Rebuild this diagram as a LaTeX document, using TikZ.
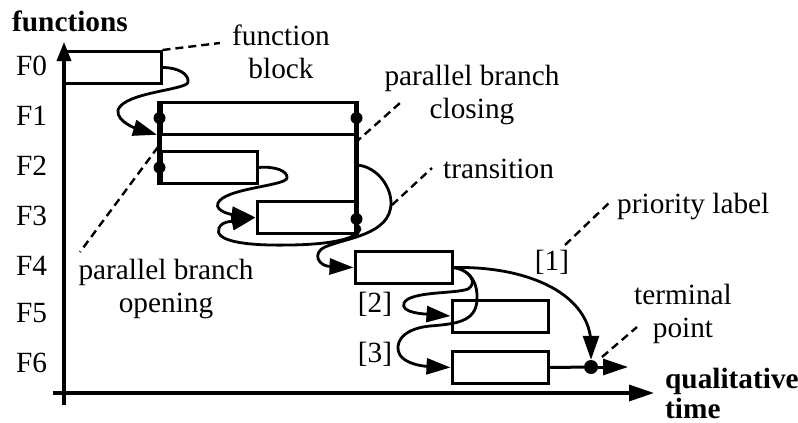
\documentclass[tikz,border=0pt]{standalone}
\usepackage{fontspec}
\setmainfont{Liberation Serif}
\usetikzlibrary{arrows.meta}

\begin{document}
\begin{tikzpicture}[
        x=1pt, y=-1pt,
        lbl/.style={font=\fontsize{29.3}{32.5}\selectfont, inner sep=0pt, align=center},
        hdr/.style={font=\fontsize{29.3}{30}\selectfont\bfseries, inner sep=0pt, align=left},
        blk/.style={draw, line width=3pt, minimum height=32pt, inner sep=0pt},
        par/.style={draw, line width=5.2pt},
        pmark/.style={circle, fill, inner sep=0pt, minimum size=12pt},
        axline/.style={draw, line width=3.4pt},
        trans/.style={draw, line width=2.8pt, -{Triangle[length=24pt,width=16pt]}},
        lead/.style={draw, line width=2.4pt, dash pattern=on 8pt off 5pt}
    ]
    \useasboundingbox (0,0) rectangle (798,423);
    % axes
    \coordinate (ytop) at (64,42);
    \coordinate (ybot) at (64,405);
    \coordinate (xleft) at (53,393);
    \coordinate (xend) at (654,393);
    \draw[axline, -{Triangle[length=19pt,width=14pt]}] (ybot) -- (ytop);
    \draw[axline, -{Triangle[length=25pt,width=16pt]}] (xleft) -- (xend);
    \node[hdr, anchor=base west] (yl) at (12,31) {functions};
    \node[hdr, anchor=base west] (xl) at (665,418) {qualitative\\time};
    \foreach \f/\yb in {0/75,1/125,2/175,3/225,4/275,5/322,6/372}
        \node[lbl, anchor=base west] (lf\f) at (16,\yb) {F\f};

    % function blocks
    \node[blk, minimum width=97pt] (f0) at (112.5,67.5) {};
    \node[blk, minimum width=194pt] (f1) at (258,118) {};
    \node[blk, minimum width=96pt] (f2) at (209,167.5) {};
    \node[blk, minimum width=98pt] (f3) at (306,217.5) {};
    \node[blk, minimum width=97pt] (f4) at (403.5,267.5) {};
    \node[blk, minimum width=96pt] (f5) at (500,316) {};
    \node[blk, minimum width=96pt] (f6) at (500,367.5) {};

    % parallel branch
    \draw[par] (f1.north west) -- (f2.south west);
    \draw[par] (f1.north east) -- (f3.south east);
    \node[pmark] (b1) at (f1.west) {};
    \node[pmark] (b2) at (f1.east) {};
    \node[pmark] (b3) at (f2.west) {};
    \node[pmark] (b4) at ([yshift=-1.5pt]f3.east) {};
    \coordinate (cls) at (355,165);
    \node[pmark, minimum size=14pt] (tp) at (591,367) {};
    \coordinate (tend) at (628,367);

    % transitions
    \draw[trans, shorten >=2.6pt] (f0.east) .. controls (178,67.5) and (189,74) .. (188,82)
        .. controls (188,90) and (124,92) .. (118,110)
        .. controls (116,122) and (138,129) .. (f1.south west);
    \draw[trans] (f2.east) .. controls (275,166) and (288,171) .. (287,178)
        .. controls (286,186) and (225,188) .. (218,203)
        .. controls (214,212) and (235,215) .. (f3.west);
    \draw[trans] (b4.south) .. controls (365,228) and (362,244) .. (290,245)
        .. controls (240,246) and (214,240) .. (219,228)
        .. controls (222,220) and (238,221) .. (f3.west);
    \draw[trans] (cls) .. controls (375,165) and (391,185) .. (391,203)
        .. controls (391,235) and (345,238) .. (325,247)
        .. controls (312,253) and (318,266) .. (f4.west);
    \draw[trans] (f4.east) .. controls (530,266) and (591,295) .. (591,345) -- (tp);
    \draw[trans] (f4.east) .. controls (470,270) and (478,283) .. (468,289)
        .. controls (455,294) and (410,291) .. (404,303)
        .. controls (400,313) and (425,314) .. (f5.west);
    \draw[trans] (f4.east) .. controls (472,270) and (478,285) .. (477,300)
        .. controls (476,322) and (455,324) .. (430,326)
        .. controls (400,329) and (394,345) .. (400,355)
        .. controls (405,363) and (420,366) .. (f6.west);
    \draw[line width=3pt] (f6.east) -- (tp);
    \draw[line width=3pt, -{Triangle[length=25pt,width=16pt]}] (tp) -- (tend);

    % priority labels
    \node[lbl, anchor=base] (p1) at (552,270) {[1]};
    \node[lbl, anchor=base] (p2) at (375,312) {[2]};
    \node[lbl, anchor=base] (p3) at (375,362) {[3]};

    % callouts
    \node[lbl, anchor=base] (lfb) at (281,78) {function\\block};
    \node[lbl, anchor=base] (lpc) at (472,118) {parallel branch\\closing};
    \node[lbl, anchor=base west] (ltr) at (443,178) {transition};
    \node[lbl, anchor=base west] (lpl) at (617,213) {priority label};
    \node[lbl, anchor=base] (ltp) at (683,337) {terminal\\point};
    \node[lbl, anchor=base] (lpo) at (166,312) {parallel branch\\opening};
    \coordinate (cfb) at (220,43);
    \coordinate (cpc0) at (355,143); \coordinate (cpc1) at (400,103);
    \coordinate (ctr0) at (392,205); \coordinate (ctr1) at (432,168);
    \coordinate (cpl0) at (565,245); \coordinate (cpl1) at (610,202);
    \coordinate (ctp0) at (602,357); \coordinate (ctp1) at (637,327);
    \coordinate (cpo0) at (158,147); \coordinate (cpo1) at (80,252);
    \draw[lead] (f0.north east) -- (cfb);
    \draw[lead] (cpc0) -- (cpc1);
    \draw[lead] (ctr0) -- (ctr1);
    \draw[lead] (cpl0) -- (cpl1);
    \draw[lead] (ctp0) -- (ctp1);
    \draw[lead] (cpo0) -- (cpo1);
\end{tikzpicture}
\end{document}
